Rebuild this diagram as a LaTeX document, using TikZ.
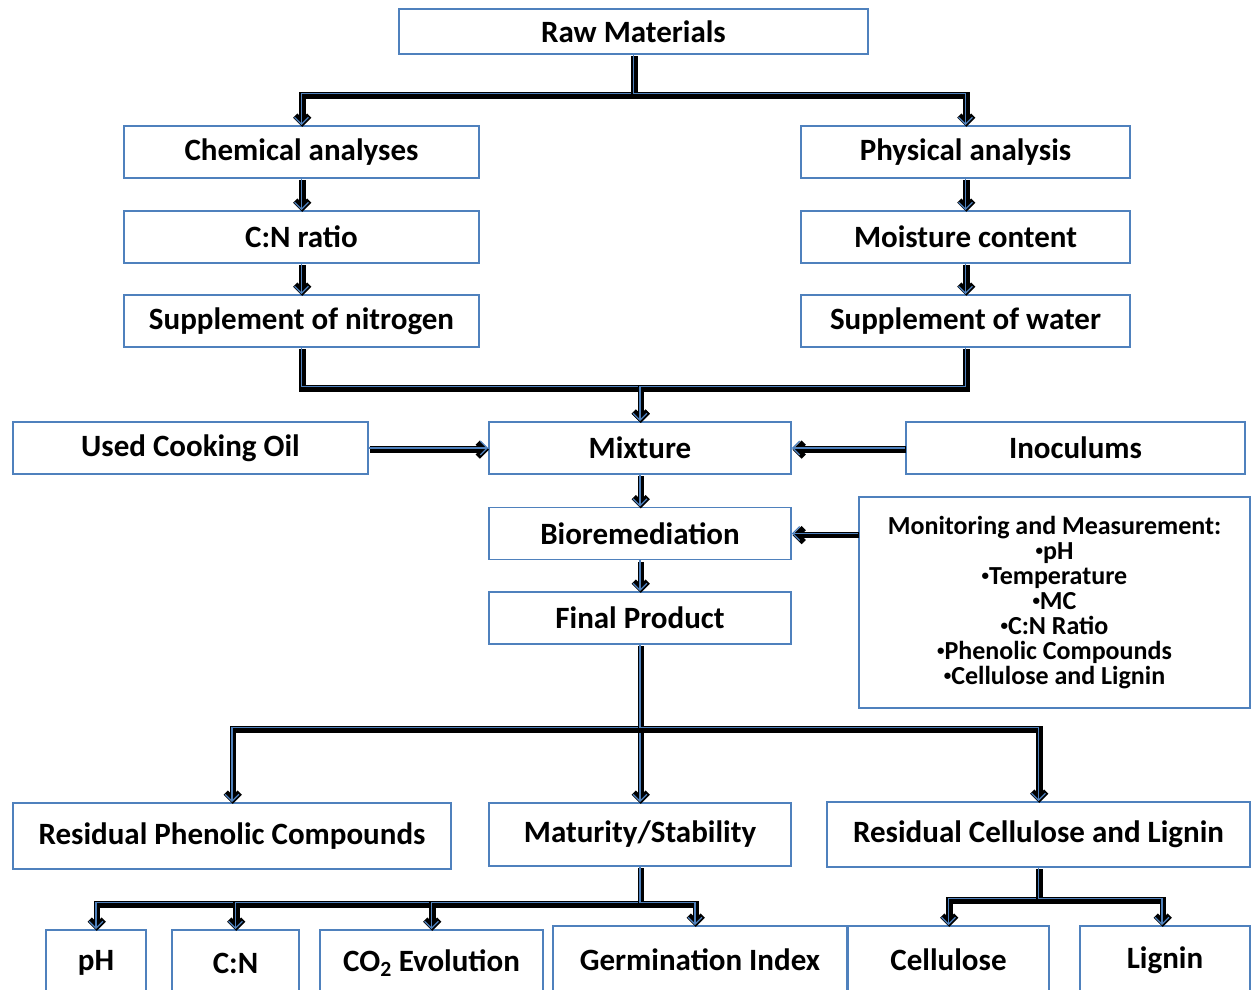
\documentclass[tikz,border=0pt]{standalone}
\usepackage{fontspec}
\setmainfont{Carlito}
\usetikzlibrary{arrows.meta}
\definecolor{boxblue}{RGB}{79,129,189}
\newcommand{\mbul}{{\fontsize{15}{15}\selectfont\raisebox{4pt}{•}}}
\tikzset{
	box/.style={draw=boxblue, line width=1.6pt, fill=white, minimum height=52pt, inner sep=0pt,
		font=\bfseries\fontsize{31}{35}\selectfont},
	link/.style={draw=boxblue, line width=1.3pt, -{Straight Barb[length=7pt,width=14pt]},
		preaction={draw=black, line width=6.5pt, transform canvas={shift={(0.8pt,-1.6pt)}},
			-{Straight Barb[length=7pt,width=14pt,line width=6pt]}}},
}
\begin{document}
\begin{tikzpicture}[x=1pt,y=-1pt]
	\clip (0,0) rectangle (1254,989);
	% top
	\node[box, minimum width=469pt, minimum height=45pt] (raw) at (633.5,31.5) {Raw Materials};
	\node[box, minimum width=355pt] (chem) at (301.5,152) {Chemical analyses};
	\node[box, minimum width=355pt] (cnratio) at (301.5,237) {C:N ratio};
	\node[box, minimum width=355pt] (nitro) at (301.5,321) {Supplement of nitrogen};
	\node[box, minimum width=329pt] (phys) at (965.5,152) {Physical analysis};
	\node[box, minimum width=329pt] (moist) at (965.5,237) {Moisture content};
	\node[box, minimum width=329pt] (water) at (965.5,321) {Supplement of water};
	% middle
	\node[box, minimum width=355pt] (oil) at (190.5,448) {Used Cooking Oil};
	\node[box, minimum width=302pt] (mix) at (640,448) {Mixture};
	\node[box, minimum width=339pt] (inoc) at (1075.5,448) {Inoculums};
	\node[box, minimum width=302pt] (bio) at (640,533.5) {Bioremediation};
	\node[box, minimum width=302pt] (final) at (640,618) {Final Product};
	\node[box, minimum width=391pt, minimum height=211pt, align=center,
		font=\bfseries\fontsize{26}{25}\selectfont] (monit) at (1054.5,602.5)
		{Monitoring and Measurement:\\\mbul pH\\\mbul Temperature\\\mbul MC\\\mbul C:N Ratio\\\mbul Phenolic Compounds\\\mbul Cellulose and Lignin};
	% results
	\node[box, minimum width=438pt, minimum height=66pt] (phenol) at (232,836) {Residual Phenolic Compounds};
	\node[box, minimum width=302pt, minimum height=63pt] (matur) at (640,834.5) {Maturity/Stability};
	\node[box, minimum width=423pt, minimum height=65pt] (rescell) at (1038.5,834.5) {Residual Cellulose and Lignin};
	% bottom row
	\node[box, minimum width=100pt, minimum height=66pt] (ph) at (96,963) {pH};
	\node[box, minimum width=127pt, minimum height=66pt] (cn) at (235.5,963) {C:N};
	\node[box, minimum width=223pt, minimum height=66pt] (co2) at (431.5,963) {CO\textsubscript{2} Evolution};
	\node[box, minimum width=294pt, minimum height=68pt] (germ) at (700,960) {Germination Index};
	\node[box, minimum width=201pt, minimum height=68pt] (cell) at (948.5,960) {Cellulose};
	\node[box, minimum width=170pt, minimum height=68pt] (lign) at (1165,960) {Lignin};

	% connectors
	\draw[link] (raw.south) -- ++(0,39) -| (chem.north);
	\draw[link] (raw.south) -- ++(0,39) -| (phys.north);
	\draw[link] (chem) -- (cnratio);
	\draw[link] (cnratio) -- (nitro);
	\draw[link] (phys) -- (moist);
	\draw[link] (moist) -- (water);
	\draw[link] (nitro.south) -- ++(0,39) -| (mix.north);
	\draw[link] (water.south) -- ++(0,39) -| (mix.north);
	\draw[link] (oil) -- (mix);
	\draw[link] (inoc) -- (mix);
	\draw[link] (mix) -- (bio);
	\draw[link] (bio) -- (final);
	\draw[link] (monit.west |- bio.east) -- (bio.east);
	\draw[link] (final.south) -- ++(0,83) -| (phenol.north);
	\draw[link] (final.south) -- (matur.north);
	\draw[link] (final.south) -- ++(0,83) -| (rescell.north);
	\draw[link] (matur.south) -- ++(0,36) -| (ph.north);
	\draw[link] (matur.south) -- ++(0,36) -| (cn.north);
	\draw[link] (matur.south) -- ++(0,36) -| (co2.north);
	\draw[link] (matur.south) -- ++(0,36) -| ([xshift=-5pt]germ.north);
	\draw[link] (rescell.south) -- ++(0,31) -| (cell.north);
	\draw[link] (rescell.south) -- ++(0,31) -| ([xshift=-3pt]lign.north);
\end{tikzpicture}
\end{document}
